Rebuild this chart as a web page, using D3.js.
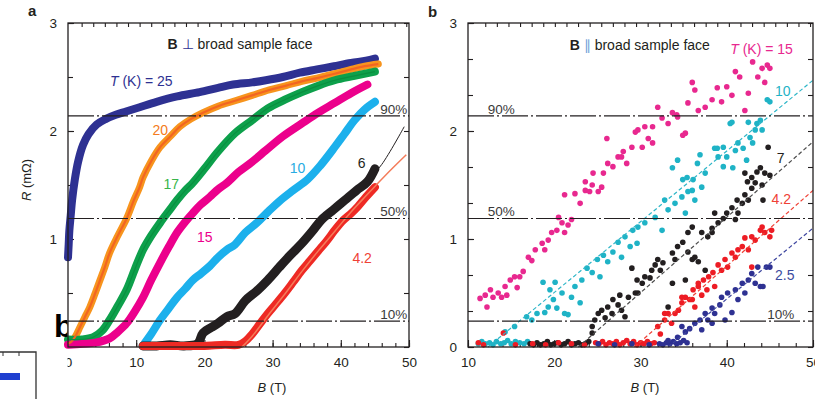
<!DOCTYPE html>
<html>
<head>
<meta charset="utf-8">
<script src="https://cdn.jsdelivr.net/npm/d3@7"></script>
<style>
  body { margin: 0; background: #fff; }
  svg { display: block; }
  text { font-family: "Liberation Sans", Arial, sans-serif; }
</style>
</head>
<body>
<script>
// ---- panel a: B perpendicular to broad sample face, R (mOhm) vs B (T) ----
const perp25 = [[0,0.83],[0.1,0.95],[0.2,1.08],[0.4,1.22],[0.6,1.36],[1,1.55],[1.5,1.72],[2.2,1.87],[3,1.97],[4.2,2.06],[5.5,2.11],[7,2.15],[8.5,2.18],[10.5,2.22],[13,2.27],[16,2.32],[19.3,2.36],[22,2.4],[24.2,2.43],[27,2.45],[29,2.47],[31.5,2.5],[34,2.54],[36.5,2.57],[39,2.6],[41.5,2.63],[43.7,2.65],[45,2.67]];
const perp20 = [[0,0.03],[0.5,0.05],[1,0.09],[1.8,0.19],[2.5,0.28],[3.2,0.37],[4,0.5],[4.7,0.62],[5.4,0.74],[6.1,0.87],[7.3,1.03],[8.6,1.19],[9.6,1.35],[10.5,1.48],[11,1.57],[12.2,1.72],[13.5,1.85],[15,1.95],[16.4,2.04],[18,2.11],[19.8,2.17],[22,2.23],[24.5,2.28],[27,2.33],[29.5,2.38],[32,2.42],[34.3,2.46],[36.5,2.49],[39.1,2.53],[41.5,2.57],[43.5,2.6],[45.5,2.62]];
const perp17 = [[0,0.07],[2,0.07],[3.7,0.09],[5,0.15],[6.1,0.25],[7.3,0.38],[8.6,0.53],[9.8,0.72],[11,0.9],[12.2,1.03],[13.5,1.15],[14.8,1.26],[16,1.36],[17.2,1.45],[18.3,1.52],[20,1.65],[22,1.81],[24.5,1.98],[27,2.1],[29.3,2.21],[31.8,2.29],[34.3,2.36],[36.7,2.42],[39.1,2.47],[42,2.51],[45,2.55]];
const perp15 = [[0,0.02],[2.2,0.03],[4,0.04],[6.1,0.08],[7.3,0.14],[8.6,0.22],[9.8,0.33],[11,0.46],[12.2,0.62],[13.5,0.78],[14.8,0.93],[16,1.06],[17.2,1.16],[18.3,1.24],[19.5,1.32],[20.8,1.39],[22,1.46],[23.3,1.52],[25,1.62],[26.9,1.71],[29,1.82],[31.5,1.95],[34.3,2.07],[36.7,2.17],[39.1,2.26],[41.5,2.35],[43.9,2.43]];
const perp10 = [[11.3,0.04],[12.2,0.12],[13.5,0.25],[14.8,0.36],[16,0.46],[17.2,0.54],[18.3,0.62],[19.5,0.68],[20.8,0.75],[22,0.83],[23.3,0.9],[24.5,0.95],[26,1.06],[27.7,1.15],[29.3,1.25],[31,1.35],[33,1.45],[35.1,1.55],[37,1.68],[39.1,1.85],[40.5,1.97],[42,2.1],[43.5,2.2],[45,2.27]];
const perp6 = [[11,0.01],[13,0.01],[15,0.02],[17,0.01],[19,0.03],[19.8,0.13],[21,0.18],[22,0.22],[23.3,0.28],[24.5,0.31],[26,0.43],[27.7,0.52],[29.3,0.62],[31,0.74],[32.6,0.85],[34.3,0.96],[35.8,1.07],[37.2,1.18],[38.9,1.27],[40.6,1.36],[42.3,1.45],[43.9,1.53],[45,1.65]];
const perp4 = [[11,0.01],[14,0.01],[17,0.01],[20,0.01],[23,0.02],[25,0.02],[25.9,0.05],[27,0.12],[28.2,0.22],[29.3,0.31],[30.5,0.4],[31.8,0.5],[33,0.6],[34.3,0.71],[35.5,0.8],[36.7,0.89],[37.9,0.98],[39.1,1.08],[40.3,1.17],[41.4,1.23],[42.5,1.3],[43.7,1.39],[45,1.48]];
const perp6Fit = [[44,1.55],[46,1.69],[49.3,2.04]];
const perp4Fit = [[25.5,0],[27,0.1],[29.3,0.29],[31.8,0.49],[34.3,0.7],[36.7,0.89],[39.1,1.07],[41.5,1.25],[43.7,1.4],[45.5,1.52],[47.5,1.65],[49.6,1.78]];

// ---- panel b: B parallel to broad sample face ----
const par15 = [[11.4,0.45],[12.0,0.48],[12.2,0.37],[12.6,0.53],[12.9,0.46],[13.5,0.5],[13.9,0.46],[14.3,0.56],[14.5,0.48],[14.9,0.62],[15.4,0.65],[15.7,0.55],[16.0,0.65],[16.4,0.7],[17.0,0.83],[17.4,0.8],[17.8,0.9],[18.6,0.96],[18.9,0.9],[19.3,0.99],[19.7,1.06],[20.3,1.08],[20.5,1.2],[20.9,1.15],[21.2,1.06],[21.6,1.13],[22.0,1.18],[21.2,1.41],[22.4,1.42],[23.0,1.33],[23.6,1.45],[23.6,1.53],[24.1,1.44],[24.4,1.5],[24.5,1.61],[25.1,1.44],[25.5,1.48],[25.7,1.61],[26.1,1.93],[26.2,1.7],[26.8,1.67],[27.4,1.76],[27.8,1.76],[28.0,1.81],[28.4,1.7],[29.0,1.85],[29.4,1.99],[29.7,2.01],[30.2,1.85],[30.5,2.04],[30.9,1.93],[31.4,1.89],[31.4,2.04],[32.0,2.22],[32.5,2.12],[33.2,2.07],[33.7,2.17],[34.2,2.15],[34.3,2.13],[34.9,1.96],[35.2,1.98],[35.5,2.26],[36.0,2.45],[36.3,2.38],[36.7,2.19],[37.5,2.22],[38.3,2.29],[38.9,2.4],[39.4,2.27],[40.0,2.41],[40.6,2.33],[41.0,2.55],[41.5,2.5],[42.1,2.19],[42.5,2.35],[43.0,2.64],[43.6,2.5],[44.1,2.58],[44.4,2.45],[44.7,2.61],[45.0,2.58]];
const par10 = [[11.2,0.03],[11.6,0.05],[12.0,0.03],[12.5,0.04],[12.9,0.02],[13.3,0.05],[13.8,0.03],[14.2,0.04],[14.6,0.06],[15.0,0.03],[15.5,0.05],[16.0,0.04],[16.5,0.03],[16.9,0.05],[14.3,0.14],[15.4,0.19],[16.8,0.28],[17.4,0.25],[18.0,0.31],[18.7,0.6],[18.9,0.32],[19.3,0.37],[19.5,0.53],[19.9,0.44],[20.1,0.6],[20.3,0.36],[20.9,0.5],[21.2,0.31],[21.6,0.3],[22.0,0.46],[22.4,0.56],[23.0,0.41],[23.2,0.62],[23.8,0.73],[24.4,0.69],[25.0,0.81],[25.3,0.65],[25.7,0.85],[26.2,0.79],[26.8,0.88],[27.4,0.97],[27.8,0.83],[28.2,1.02],[28.8,0.93],[29.1,1.08],[29.6,0.96],[29.7,1.11],[30.5,1.15],[31.7,1.2],[32.5,1.08],[32.8,1.36],[33.2,1.27],[33.7,1.66],[34.0,1.33],[34.3,1.73],[34.8,1.39],[34.9,1.55],[35.2,1.24],[35.4,1.57],[35.5,1.44],[36.0,1.45],[36.1,1.55],[36.3,1.36],[36.6,1.7],[36.9,1.78],[37.1,1.48],[37.5,1.61],[38.6,1.84],[38.9,1.84],[39.0,1.76],[39.6,1.85],[39.6,1.67],[40.0,1.76],[40.4,2.07],[40.6,2.08],[40.7,1.66],[41.0,1.82],[41.3,1.89],[41.9,1.84],[42.3,1.73],[42.5,2.08],[42.7,1.94],[43.0,1.89],[43.3,2.01],[43.5,2.07],[43.9,2.1],[44.1,2.01],[44.7,2.29],[45.0,2.27]];
const par7 = [[17.2,0.03],[17.6,0.02],[18.0,0.04],[18.4,0.02],[18.8,0.03],[19.2,0.05],[19.6,0.02],[20.0,0.03],[20.4,0.04],[20.8,0.02],[21.2,0.03],[21.6,0.05],[22.0,0.02],[22.4,0.03],[22.8,0.04],[23.2,0.02],[23.6,0.03],[24.0,0.05],[24.4,0.13],[24.4,0.19],[24.7,0.25],[25.1,0.31],[25.5,0.34],[25.9,0.27],[26.2,0.37],[26.7,0.31],[26.8,0.44],[27.4,0.39],[27.6,0.48],[27.8,0.34],[28.2,0.28],[28.6,0.46],[29.0,0.73],[29.4,0.5],[29.6,0.62],[29.7,0.5],[30.2,0.59],[30.5,0.65],[31.1,0.64],[31.3,0.71],[31.7,0.76],[32.0,0.81],[32.3,0.71],[32.6,0.78],[33.2,0.37],[33.7,0.87],[33.7,0.59],[34.0,0.81],[34.3,0.93],[34.9,0.97],[35.2,0.62],[35.5,0.88],[35.5,1.06],[36.0,0.81],[36.0,1.11],[36.3,0.83],[36.7,0.79],[37.1,1.06],[37.5,0.71],[37.8,1.02],[38.3,1.1],[38.3,1.06],[38.6,1.24],[39.0,1.15],[39.6,1.19],[40.0,1.24],[40.6,1.29],[41.0,1.18],[41.2,1.36],[41.3,1.24],[41.8,1.33],[42.1,1.41],[42.1,1.61],[42.4,1.53],[42.5,1.36],[42.9,1.47],[42.9,1.57],[43.3,1.52],[43.5,1.62],[43.9,1.66],[44.1,1.5],[44.2,1.36],[44.4,1.61],[44.8,1.85],[45.0,1.59]];
const par4 = [[11.2,0.04],[11.8,0.02],[14.1,0.13],[15.5,0.02],[17.5,0.03],[19.0,0.02],[20.5,0.04],[22.0,0.03],[23.5,0.02],[24.8,0.04],[25.2,0.03],[25.6,0.05],[26.0,0.02],[26.4,0.04],[26.8,0.03],[27.2,0.05],[27.6,0.02],[28.0,0.04],[28.4,0.06],[28.8,0.03],[29.2,0.05],[29.6,0.02],[30.0,0.04],[30.4,0.03],[30.8,0.05],[31.2,0.03],[31.6,0.04],[32.0,0.19],[32.3,0.12],[32.8,0.25],[32.8,0.31],[33.2,0.31],[33.6,0.22],[34.0,0.31],[34.4,0.34],[34.8,0.41],[34.8,0.46],[35.2,0.46],[35.7,0.44],[36.0,0.44],[36.1,0.53],[36.3,0.37],[36.7,0.56],[36.7,0.59],[37.1,0.48],[37.3,0.62],[37.7,0.53],[37.9,0.65],[38.4,0.69],[38.6,0.56],[39.0,0.76],[39.4,0.71],[39.8,0.81],[40.1,0.74],[40.6,0.87],[41.0,0.83],[41.3,0.9],[41.8,0.93],[42.1,1.01],[42.5,0.9],[42.9,1.02],[42.9,0.74],[43.3,0.99],[43.9,1.08],[44.1,1.11],[44.4,1.06],[45.0,1.02],[45.2,1.08]];
const par2 = [[25.1,0.03],[27.0,0.02],[29.0,0.03],[31.0,0.02],[32.2,0.03],[32.6,0.02],[33.0,0.04],[33.4,0.03],[33.8,0.05],[34.2,0.03],[34.6,0.04],[35.0,0.06],[35.4,0.04],[33.2,0.06],[34.3,0.09],[34.8,0.19],[35.2,0.14],[35.7,0.17],[36.3,0.22],[36.9,0.25],[37.1,0.16],[37.5,0.31],[37.8,0.25],[38.3,0.36],[38.3,0.22],[38.6,0.31],[39.2,0.39],[39.4,0.46],[39.8,0.25],[40.1,0.5],[40.6,0.32],[41.0,0.53],[41.3,0.44],[41.8,0.59],[42.1,0.5],[42.5,0.62],[42.9,0.68],[43.3,0.59],[43.6,0.74],[43.9,0.56],[44.2,0.56],[44.6,0.74],[45.0,0.74]];
const par10Fit = [[12.3,0],[50,2.47]];
const par7Fit = [[22.8,0],[50,1.9]];
const par4Fit = [[29.3,0],[50,1.45]];
const par2Fit = [[33.2,0],[50,1.1]];

// reference levels (fraction of normal-state resistance)
const refLevels = [0.24, 1.19, 2.14];
const refNames = ['10%', '50%', '90%'];
const xMajorA = [0, 10, 20, 30, 40, 50];
const xMajorB = [10, 20, 30, 40, 50];
const yMajorA = [1, 2, 3];
const yMajorB = [0, 1, 2, 3];

const INK = '#231f20';
const svg = d3.select('body').append('svg').attr('width', 815).attr('height', 399);

const xA = d3.scaleLinear().domain([0, 50]).range([68, 409]);
const xB = d3.scaleLinear().domain([10, 50]).range([468, 813]);
const y = d3.scaleLinear().domain([0, 3]).range([347, 23]);
const intFmt = d3.format('d');

function styleAxis(g) {
    g.select('.domain').remove();
    g.attr('color', INK).attr('font-family', null).attr('font-size', null);
    g.selectAll('line').attr('stroke-width', 1.1);
    g.selectAll('text').attr('font-size', 13.5).attr('fill', INK);
}

function axes(x, xMajor, topTicks, yMinorStep, yMajor) {
    const [x0, x1] = x.range();
    const [b, t] = y.range();
    const g = svg.append('g');
    const [d0, d1] = x.domain();
    g.append('g').attr('transform', `translate(0,${b})`)
        .call(d3.axisBottom(x).tickValues(d3.range(d0, d1 + 0.1, 2)).tickSize(-4).tickFormat(''))
        .call(styleAxis);
    g.append('g').attr('transform', `translate(0,${b})`)
        .call(d3.axisBottom(x).tickValues(xMajor).tickSize(-7).tickPadding(10).tickFormat(intFmt))
        .call(styleAxis);
    g.append('g').attr('transform', `translate(0,${t})`)
        .call(d3.axisTop(x).tickValues(topTicks).tickSize(-4).tickFormat(''))
        .call(styleAxis);
    const yMinor = d3.range(0, 3.01, yMinorStep);
    g.append('g').attr('transform', `translate(${x0},0)`)
        .call(d3.axisLeft(y).tickValues(yMinor).tickSize(-5).tickFormat(''))
        .call(styleAxis);
    g.append('g').attr('transform', `translate(${x0},0)`)
        .call(d3.axisLeft(y).tickValues(yMajor).tickSize(-6).tickPadding(11).tickFormat(intFmt))
        .call(styleAxis);
    g.append('g').attr('transform', `translate(${x1},0)`)
        .call(d3.axisRight(y).tickValues(yMinor).tickSize(-5).tickFormat(''))
        .call(styleAxis);
    return g;
}

function frame(x) {
    const [x0, x1] = x.range();
    const [b, t] = y.range();
    svg.append('rect').attr('x', x0).attr('y', t).attr('width', x1 - x0).attr('height', b - t)
        .attr('fill', 'none').attr('stroke', INK).attr('stroke-width', 1.3);
}

function refLines(x, labelAt) {
    const [x0, x1] = x.range();
    svg.append('g').selectAll('line').data(refLevels).join('line')
        .attr('x1', x0).attr('x2', x1)
        .attr('y1', d => y(d)).attr('y2', d => y(d))
        .attr('stroke', INK).attr('stroke-width', 1.2)
        .attr('stroke-dasharray', '26,3,2,3');
    svg.append('g').selectAll('text').data(refLevels).join('text')
        .attr('x', (d, i) => x(labelAt[i]))
        .attr('y', d => y(d) - 2)
        .attr('font-size', 13.5).attr('fill', '#3a3a3a')
        .text((d, i) => refNames[i]);
}

function label(x, bx, r, parts, color, size) {
    const t = svg.append('text').attr('x', x(bx)).attr('y', y(r))
        .attr('font-size', size || 14).attr('fill', color);
    parts.forEach(p => {
        t.append('tspan').text(p.s)
            .attr('font-style', p.i ? 'italic' : null)
            .attr('font-weight', p.b ? 'bold' : null)
            .attr('fill', p.c || null);
    });
    return t;
}

// ---------- panel a ----------
axes(xA, xMajorA, d3.range(2, 49.9, 1.7), 0.5, yMajorA);

const band = d3.line().x(d => xA(d[0])).y(d => y(d[1])).curve(d3.curveCatmullRom);
const bands = [
    [perp25, '#2e3192', 8],
    [perp20, '#f7941d', 7],
    [perp17, '#0da04b', 8],
    [perp15, '#ec008c', 8],
    [perp10, '#1cb0ec', 8],
    [perp6, '#231f20', 9],
    [perp4, '#ee2a24', 8]
];
svg.append('g').selectAll('path').data(bands).join('path')
    .attr('d', d => band(d[0]))
    .attr('fill', 'none')
    .attr('stroke', d => d[1])
    .attr('stroke-width', d => d[2])
    .attr('stroke-linejoin', 'round')
    .attr('stroke-linecap', 'round');

const fitsA = [
    [perp20, '#f26522', 2.2],
    [perp17, '#0a8f40', 1.2],
    [perp6Fit, '#231f20', 1],
    [perp4Fit, '#f47c5a', 1.5]
];
svg.append('g').selectAll('path').data(fitsA).join('path')
    .attr('d', d => band(d[0]))
    .attr('fill', 'none')
    .attr('stroke', d => d[1])
    .attr('stroke-width', d => d[2]);

refLines(xA, [45.8, 45.8, 45.8]);
frame(xA);

label(xA, 14.6, 2.76, [{ s: 'B', b: true }, { s: ' \u22A5 ', c: '#2e3192' }, { s: 'broad sample face' }], INK);
label(xA, 6.15, 2.42, [{ s: 'T', i: true }, { s: ' (K) = 25' }], '#2e3192');
label(xA, 12.4, 1.96, [{ s: '20' }], '#f47b20');
label(xA, 14.0, 1.46, [{ s: '17' }], '#39b54a');
label(xA, 18.9, 0.97, [{ s: '15' }], '#ec008c');
label(xA, 32.5, 1.61, [{ s: '10' }], '#29abe2');
label(xA, 42.5, 1.66, [{ s: '6' }], INK);
label(xA, 41.7, 0.78, [{ s: '4.2' }], '#ef4136');

// ---------- panel b ----------
axes(xB, xMajorB, d3.range(12, 49.9, 1.345), 1 / 3, yMajorB);

const dotSets = [
    [par15, '#e8288f'],
    [par10, '#1fb3c6'],
    [par7, '#231f20'],
    [par4, '#ed1c24'],
    [par2, '#2e3192']
];
dotSets.forEach(([pts, color]) => {
    svg.append('g').selectAll('circle').data(pts).join('circle')
        .attr('cx', d => xB(d[0])).attr('cy', d => y(d[1]))
        .attr('r', 2.8).attr('fill', color);
});

const straight = d3.line().x(d => xB(d[0])).y(d => y(d[1]));
const fitsB = [
    [par10Fit, '#2fb6c8'],
    [par7Fit, '#4d4d4d'],
    [par4Fit, '#ef4136'],
    [par2Fit, '#3f47a0']
];
svg.append('g').selectAll('path').data(fitsB).join('path')
    .attr('d', d => straight(d[0]))
    .attr('fill', 'none')
    .attr('stroke', d => d[1])
    .attr('stroke-width', 1.2)
    .attr('stroke-dasharray', '4,2.5');

refLines(xB, [44.7, 12.3, 12.3]);
frame(xB);

label(xB, 21.8, 2.75, [{ s: 'B', b: true }, { s: ' \u2225 ', c: '#6f9fd8' }, { s: 'broad sample face' }], INK);
label(xB, 40.4, 2.71, [{ s: 'T', i: true }, { s: ' (K) = 15' }], '#e8288f');
label(xB, 45.6, 2.32, [{ s: '10' }], '#1fb3c6');
label(xB, 45.8, 1.70, [{ s: '7' }], INK);
label(xB, 45.2, 1.32, [{ s: '4.2' }], '#ef4136');
label(xB, 45.6, 0.62, [{ s: '2.5' }], '#3c4ba0');

// ---------- axis titles and panel letters ----------
svg.append('text').attr('transform', 'translate(31,180) rotate(-90)')
    .attr('text-anchor', 'middle').attr('font-size', 13).attr('fill', INK)
    .call(t => { t.append('tspan').attr('font-style', 'italic').text('R'); t.append('tspan').text(' (m\u03A9)'); });
[[xA, 272], [xB, 645]].forEach(([x, cx]) => {
    svg.append('text').attr('x', cx).attr('y', 392)
        .attr('text-anchor', 'middle').attr('font-size', 13).attr('fill', INK)
        .call(t => { t.append('tspan').attr('font-style', 'italic').text('B'); t.append('tspan').text(' (T)'); });
});
svg.append('text').attr('x', 28).attr('y', 16).attr('font-size', 15).attr('font-weight', 'bold').attr('fill', INK).text('a');
svg.append('text').attr('x', 428).attr('y', 17).attr('font-size', 15).attr('font-weight', 'bold').attr('fill', INK).text('b');

// leftover piece of a neighbouring figure in the scan
svg.append('rect').attr('x', 36.5).attr('y', 350).attr('width', 31).attr('height', 49).attr('fill', '#fff');
svg.append('defs').append('clipPath').attr('id', 'clipB')
    .append('rect').attr('x', 40).attr('y', 300).attr('width', 27.5).attr('height', 50);
svg.append('text').attr('x', 54).attr('y', 337).attr('font-size', 32).attr('font-weight', 'bold')
    .attr('fill', '#000').attr('clip-path', 'url(#clipB)').text('b');
svg.append('path').attr('d', 'M0,352H36V399').attr('fill', 'none').attr('stroke', '#333').attr('stroke-width', 1.3);
svg.append('path').attr('d', 'M3,352v4M19,352v4').attr('stroke', '#333').attr('stroke-width', 1);
svg.append('rect').attr('x', 0).attr('y', 373).attr('width', 20).attr('height', 7).attr('fill', '#1f3fd0');
</script>
</body>
</html>
